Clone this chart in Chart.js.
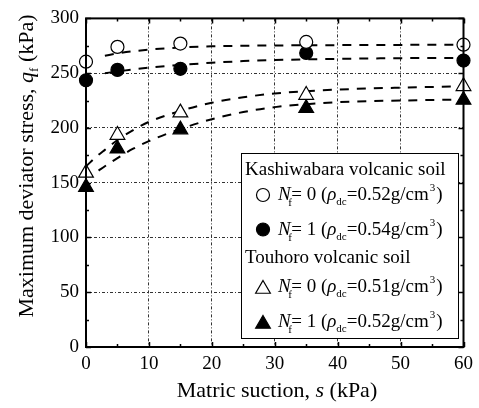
<!DOCTYPE html>
<html>
<head>
<meta charset="utf-8">
<script src="https://cdn.jsdelivr.net/npm/chart.js@4/dist/chart.umd.min.js"></script>
<style>
  html, body { margin: 0; padding: 0; background: #fff; }
  #wrap { width: 479px; height: 408px; }
</style>
</head>
<body>
<div id="wrap"><canvas id="c" width="479" height="408"></canvas></div>
<script>
// Matric suction at which the tests were run (kPa)
const suction = [0, 5, 15, 35, 60];

// Maximum deviator stress q_f (kPa)
const kashiwabaraN0 = [260.5, 274, 277, 278.5, 276];
const kashiwabaraN1 = [243.5, 253, 254, 268.5, 261.5];
const touhoroN0 = [159, 193.5, 214, 230, 238];
const touhoroN1 = [146, 181, 198.5, 218, 225.5];

// Fitted trend curves, sampled on a common suction grid
const fitSuction = [0, 2, 3, 5, 7.5, 10, 15, 20, 25, 30, 40, 50, 60];
const fitKashiwabaraN0 = [null, null, 266, 268, 270, 271.5, 273.5, 274.5, 275, 275.3, 275.6, 275.8, 276];
const fitKashiwabaraN1 = [null, null, 250, 251.5, 253.5, 255, 257.5, 259.5, 261, 262, 263, 263.7, 264];
const fitTouhoroN0 = [165, 175.5, 180, 189, 198, 205.5, 215.5, 223, 228, 231.5, 235, 236.8, 238];
const fitTouhoroN1 = [null, 161, 165, 172.5, 181, 188, 199, 208, 214.5, 219, 223.5, 225, 226];

// Axis ticks
const xTicks = [0, 10, 20, 30, 40, 50, 60];
const yTicks = [0, 50, 100, 150, 200, 250, 300];

const FONT = "'Liberation Serif', 'Times New Roman', serif";

function pts(xs, ys) {
  const out = [];
  xs.forEach((x, i) => { if (ys[i] !== null) out.push({ x: x, y: ys[i] }); });
  return out;
}

function fitSet(ys) {
  return {
    data: pts(fitSuction, ys), showLine: true, borderColor: '#000', borderWidth: 2,
    borderDash: [9, 8], pointRadius: 0, cubicInterpolationMode: 'monotone', clip: false, order: 2
  };
}

function markerSet(ys, style, filled, r) {
  return {
    data: pts(suction, ys), showLine: false, pointStyle: style, pointRadius: r, pointHoverRadius: r,
    pointBackgroundColor: filled ? '#000' : '#fff', pointBorderColor: '#000',
    pointBorderWidth: 1.2, clip: false, order: 1
  };
}

// Text made of runs with different styles (italic, sub/superscript)
function runWidth(ctx, runs) {
  let w = 0;
  runs.forEach(r => {
    ctx.font = (r.it ? 'italic ' : '') + r.size + 'px ' + FONT;
    if (r.adv !== false) w += ctx.measureText(r.t).width + (r.dx || 0);
  });
  return w;
}
function drawRuns(ctx, runs, x, y) {
  let cx = x;
  runs.forEach(r => {
    ctx.font = (r.it ? 'italic ' : '') + r.size + 'px ' + FONT;
    const w = ctx.measureText(r.t).width;
    const px = cx + (r.dx || 0) + (r.ox || 0);
    ctx.fillText(r.t, px, y + (r.dy || 0));
    if (r.adv !== false) cx += w + (r.dx || 0);
  });
}

const framePlugin = {
  id: 'frame',
  afterDraw(chart) {
    const ctx = chart.ctx;
    const a = chart.chartArea;
    const xs = chart.scales.x, ys = chart.scales.y;
    ctx.save();
    ctx.strokeStyle = '#000';
    ctx.fillStyle = '#000';
    ctx.textBaseline = 'alphabetic';
    ctx.textAlign = 'left';

    // inward ticks on all four sides
    ctx.lineWidth = 1.5;
    ctx.beginPath();
    for (let v = 0; v <= 60; v += 5) {
      const px = Math.round(xs.getPixelForValue(v)) + 0.5;
      const len = v % 10 === 0 ? 5 : 3;
      ctx.moveTo(px, a.bottom); ctx.lineTo(px, a.bottom - len);
      ctx.moveTo(px, a.top); ctx.lineTo(px, a.top + len);
    }
    for (let v = 0; v <= 300; v += 25) {
      const py = Math.round(ys.getPixelForValue(v)) + 0.5;
      const len = v % 50 === 0 ? 5 : 3;
      ctx.moveTo(a.left, py); ctx.lineTo(a.left + len, py);
      ctx.moveTo(a.right, py); ctx.lineTo(a.right - len, py);
    }
    ctx.stroke();

    // legend box
    const L = { x: 241, y: 153, w: 217, h: 185 };
    ctx.fillStyle = '#fff';
    ctx.fillRect(L.x, L.y, L.w, L.h);
    ctx.lineWidth = 1;
    ctx.strokeStyle = '#000';
    ctx.strokeRect(L.x + 0.5, L.y + 0.5, L.w, L.h);
    ctx.fillStyle = '#000';
    ctx.font = '19px ' + FONT;
    ctx.fillText('Kashiwabara volcanic soil', 245, 175);
    ctx.fillText('Touhoro volcanic soil', 245, 263);

    const rows = [
      { y: 200, n: '0', rho: '0.52', style: 'circle', filled: false, r: 6.5, my: 195 },
      { y: 235, n: '1', rho: '0.54', style: 'circle', filled: true, r: 6.5, my: 229.5 },
      { y: 292, n: '0', rho: '0.51', style: 'triangle', filled: false, r: 8.5, my: 289 },
      { y: 327, n: '1', rho: '0.52', style: 'triangle', filled: true, r: 8.5, my: 324 }
    ];
    rows.forEach(row => {
      ctx.fillStyle = row.filled ? '#000' : '#fff';
      ctx.strokeStyle = '#000';
      ctx.lineWidth = 1.2;
      Chart.helpers.drawPoint(ctx, { pointStyle: row.style, radius: row.r, borderWidth: 1.2, rotation: 0 }, 263, row.my);
      ctx.fillStyle = '#000';
      drawRuns(ctx, [
        { t: 'N', it: true, size: 19 },
        { t: 'f', size: 11, dy: 6, ox: -2.5, adv: false },
        { t: '= ' + row.n + ' (', size: 19, dx: 0.5 },
        { t: 'ρ', it: true, size: 19 },
        { t: 'dc', size: 11, dy: 5 },
        { t: '=' + row.rho + 'g/cm', size: 19 },
        { t: '3', size: 11, dy: -9, dx: 1 },
        { t: ')', size: 19, dx: 1 }
      ], 278, row.y);
    });

    // frame
    ctx.lineWidth = 2;
    ctx.strokeStyle = '#000';
    ctx.strokeRect(a.left, a.top, a.right - a.left, a.bottom - a.top);

    // axis titles
    ctx.fillStyle = '#000';
    const xt = [
      { t: 'Matric suction, ', size: 22 },
      { t: 's', it: true, size: 22 },
      { t: ' (kPa)', size: 22 }
    ];
    const xw = runWidth(ctx, xt);
    drawRuns(ctx, xt, 277 - xw / 2, 397);

    const yt = [
      { t: 'Maximum deviator stress, ', size: 22 },
      { t: 'q', it: true, size: 22 },
      { t: 'f', size: 13, dy: 5 },
      { t: ' (kPa)', size: 22 }
    ];
    const yw = runWidth(ctx, yt);
    ctx.translate(33, 166);
    ctx.rotate(-Math.PI / 2);
    drawRuns(ctx, yt, -yw / 2, 0);
    ctx.restore();
  }
};

new Chart(document.getElementById('c'), {
  type: 'scatter',
  data: {
    datasets: [
      fitSet(fitKashiwabaraN0),
      fitSet(fitKashiwabaraN1),
      fitSet(fitTouhoroN0),
      fitSet(fitTouhoroN1),
      markerSet(kashiwabaraN0, 'circle', false, 6.5),
      markerSet(kashiwabaraN1, 'circle', true, 6.5),
      markerSet(touhoroN0, 'triangle', false, 8.5),
      markerSet(touhoroN1, 'triangle', true, 8.5)
    ]
  },
  options: {
    responsive: false,
    animation: false,
    devicePixelRatio: 1,
    layout: { padding: { top: 10, right: 9, left: 0, bottom: 0 } },
    plugins: { legend: { display: false }, tooltip: { enabled: false } },
    scales: {
      x: {
        type: 'linear', min: 0, max: 60,
        afterBuildTicks: s => { s.ticks = xTicks.map(v => ({ value: v })); },
        afterFit: s => { s.height = 61; },
        ticks: { color: '#000', font: { family: FONT, size: 19 }, padding: 6, maxRotation: 0 },
        grid: { color: '#333', lineWidth: 1, drawTicks: false },
        border: { display: false, dash: [3, 2, 1, 2] }
      },
      y: {
        type: 'linear', min: 0, max: 300,
        afterBuildTicks: s => { s.ticks = yTicks.map(v => ({ value: v })); },
        afterFit: s => { s.width = 86; },
        ticks: { color: '#000', font: { family: FONT, size: 19 }, padding: 7 },
        grid: { color: '#333', lineWidth: 1, drawTicks: false },
        border: { display: false, dash: [3, 2, 1, 2] }
      }
    }
  },
  plugins: [framePlugin]
});
</script>
</body>
</html>
